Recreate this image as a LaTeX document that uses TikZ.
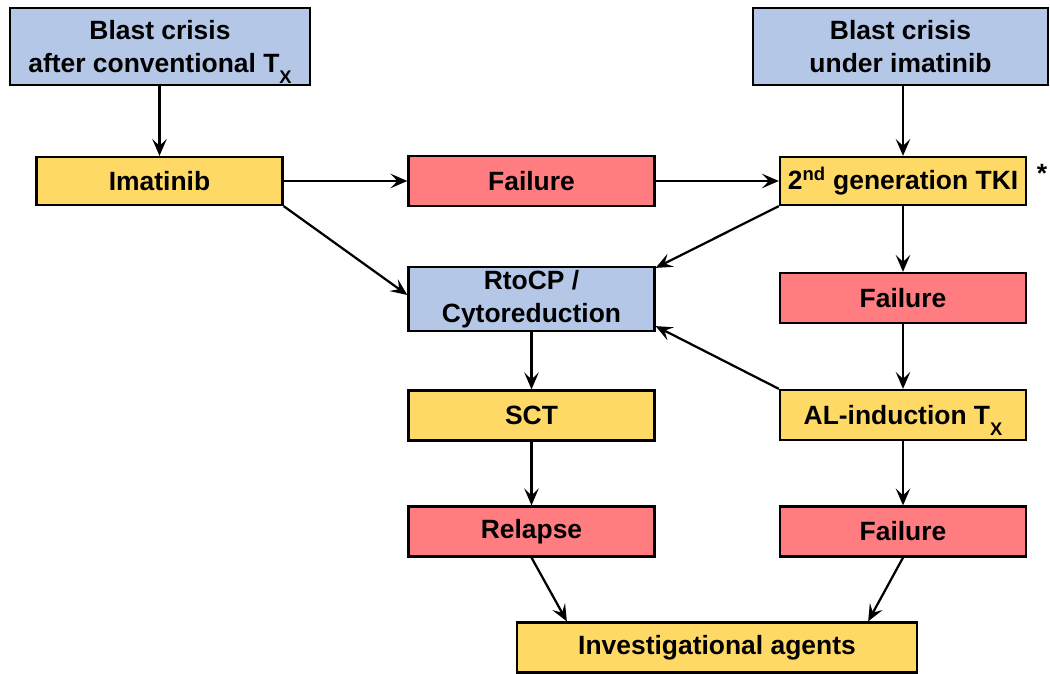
\documentclass[tikz,border=0pt]{standalone}
\usepackage{fontspec}
\setmainfont{Liberation Sans}
\usetikzlibrary{arrows.meta}

\definecolor{boxblue}{RGB}{180,199,231}
\definecolor{boxyellow}{RGB}{255,217,102}
\definecolor{boxred}{RGB}{255,124,128}

\newcommand{\Tsub}{T\raisebox{-0.28cm}[0pt][0pt]{\fontsize{13}{13}\selectfont X}}

\begin{document}
\begin{tikzpicture}[
    box/.style={draw=black, line width=1.6pt, align=center, inner sep=0pt,
        font=\bfseries\fontsize{18.8}{23.5}\selectfont,
        minimum width=6.15cm, minimum height=1.25cm},
    bluebox/.style={box, fill=boxblue},
    yellowbox/.style={box, fill=boxyellow},
    redbox/.style={box, fill=boxred},
    arr/.style={line width=1.6pt, -{Stealth[length=0.42cm, width=0.36cm, inset=0.17cm]}}
]
        % Canvas
        \useasboundingbox (0,0) rectangle (26.25,16.825);

        % Left column
        \node[bluebox, minimum width=7.5cm, minimum height=1.925cm] (bc1) at (4.0,15.6625) {Blast crisis\\after conventional \Tsub};
        \node[yellowbox, minimum height=1.2cm] (imat) at (3.9875,12.3) {Imatinib};

        % Middle column
        \node[redbox] (fail1) at (13.2875,12.3) {Failure};
        \node[bluebox, minimum height=1.6cm] (rto) at (13.2875,9.35) {RtoCP /\\Cytoreduction};
        \node[yellowbox] (sct) at (13.2875,6.4375) {SCT};
        \node[redbox] (relapse) at (13.2875,3.5375) {Relapse};

        % Right column
        \node[bluebox, minimum width=7.375cm, minimum height=1.925cm] (bc2) at (22.5125,15.6625) {Blast crisis\\under imatinib};
        \node[yellowbox, minimum height=1.2cm] (tki) at (22.575,12.3) {2\textsuperscript{nd} generation TKI};
        \node[font=\bfseries\fontsize{18.8}{23.5}\selectfont] (star) at (26.05,12.5) {*};
        \node[redbox] (fail2) at (22.575,9.375) {Failure};
        \node[yellowbox] (al) at (22.575,6.45) {AL-induction \Tsub};
        \node[redbox] (fail3) at (22.575,3.5375) {Failure};

        % Bottom
        \node[yellowbox, minimum width=10cm] (inv) at (17.925,0.6375) {Investigational agents};

        % Arrows
        \draw[arr] (bc1.south -| imat) -- (imat);
        \draw[arr] (imat) -- (fail1);
        \draw[arr] (fail1) -- (tki);
        \draw[arr] (bc2.south -| tki) -- (tki);
        \draw[arr] (imat.south east) -- ([yshift=0.1cm]rto.west);
        \draw[arr] (tki.south west) -- ([yshift=-0.05cm]rto.north east);
        \draw[arr] (tki) -- (fail2);
        \draw[arr] (fail2) -- (al);
        \draw[arr] (al.north west) -- ([yshift=0.15cm]rto.south east);
        \draw[arr] (rto) -- (sct);
        \draw[arr] (sct) -- (relapse);
        \draw[arr] (al) -- (fail3);
        \draw[arr] (relapse.south) -- ([xshift=1.275cm]inv.north west);
        \draw[arr] (fail3.south) -- ([xshift=-1.25cm]inv.north east);
    \end{tikzpicture}
\end{document}
